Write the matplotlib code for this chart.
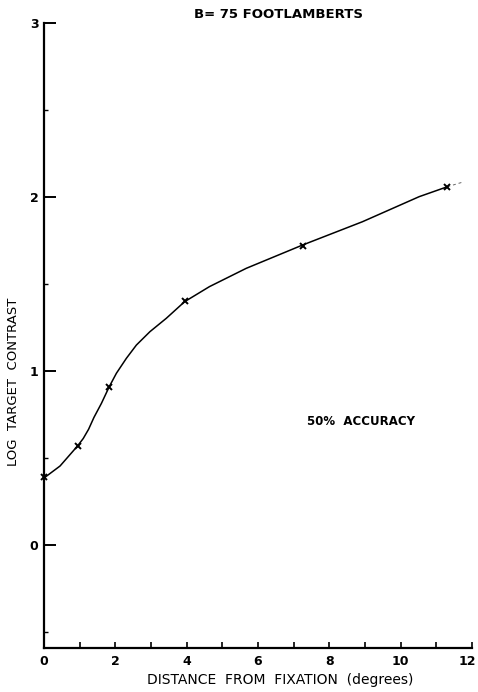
import numpy as np
import matplotlib
matplotlib.use("Agg")
import matplotlib.pyplot as plt
import matplotlib.transforms as mtransforms
from matplotlib.ticker import MultipleLocator

# measured points (x marks)
pt_x = [0.0, 0.94, 1.83, 3.94, 7.25, 11.31]
pt_y = [0.39, 0.57, 0.91, 1.40, 1.72, 2.06]

# hand-drawn curve
curve_x = [0.0, 0.45, 0.94, 1.10, 1.25, 1.40, 1.61, 1.83, 2.03, 2.31, 2.59, 2.97,
           3.43, 3.94, 4.64, 5.67, 7.25, 8.93, 10.52, 11.31]
curve_y = [0.385, 0.454, 0.569, 0.612, 0.665, 0.733, 0.814, 0.910, 0.987, 1.073, 1.149, 1.226,
           1.303, 1.398, 1.485, 1.590, 1.724, 1.858, 2.002, 2.059]
# faint dashed tail past the last point
tail_x = [11.31, 11.78]
tail_y = [2.059, 2.088]

xticks = [0, 2, 4, 6, 8, 10, 12]
xticklabels = ['0', '2', '4', '6', '8', '10', '12']
yticks = [0, 1, 2, 3]
yticklabels = ['0', '1', '2', '3']

W, H = 478, 692
fig = plt.figure(figsize=(W/100, H/100), dpi=100)
ax = fig.add_axes([44/W, 1-648/H, (472-44)/W, (648-23)/H])

ax.plot(curve_x, curve_y, color='black', lw=1.1, clip_on=False)
ax.plot(tail_x, tail_y, color='black', lw=0.7, ls=(0, (3, 3)), alpha=0.6, clip_on=False)
ax.plot(pt_x, pt_y, ls='none', marker='x', ms=4, mew=1.4, color='black', clip_on=False)

ax.set_xlim(0, 12)
ax.set_ylim(-0.592, 3)

for s in ['top', 'right']:
    ax.spines[s].set_visible(False)
for s in ['left', 'bottom']:
    ax.spines[s].set_linewidth(1.6)

ax.set_xticks(xticks)
ax.set_xticklabels(xticklabels)
ax.set_yticks(yticks)
ax.set_yticklabels(yticklabels)
ax.xaxis.set_minor_locator(MultipleLocator(1))
ax.yaxis.set_minor_locator(MultipleLocator(0.5))
ax.tick_params(axis='x', which='both', direction='in', length=4.5, width=1.2,
               labelsize=9, pad=5)
ax.tick_params(axis='y', which='major', direction='in', length=8.5, width=1.4,
               labelsize=9, pad=4)
ax.tick_params(axis='y', which='minor', direction='in', length=3, width=1.0)
for lab in ax.get_xticklabels() + ax.get_yticklabels():
    lab.set_fontweight('bold')

# keep the "12" inside the canvas
last = ax.get_xticklabels()[-1]
last.set_transform(last.get_transform() +
                   mtransforms.ScaledTranslation(-5/100, 0, fig.dpi_scale_trans))

fig.text(278/W, 1-14/H, 'B= 75 FOOTLAMBERTS', ha='center', va='center',
         fontsize=9.5, fontweight='bold')
fig.text(14/W, 1-382/H, 'LOG  TARGET  CONTRAST', ha='center', va='center',
         rotation=90, fontsize=9.5)
fig.text(280/W, 1-680/H, 'DISTANCE  FROM  FIXATION  (degrees)', ha='center', va='center',
         fontsize=10)
ax.text(7.36, 0.71, '50%  ACCURACY', ha='left', va='center', fontsize=8.5, fontweight='bold')

fig.savefig('out.png', dpi=100)
